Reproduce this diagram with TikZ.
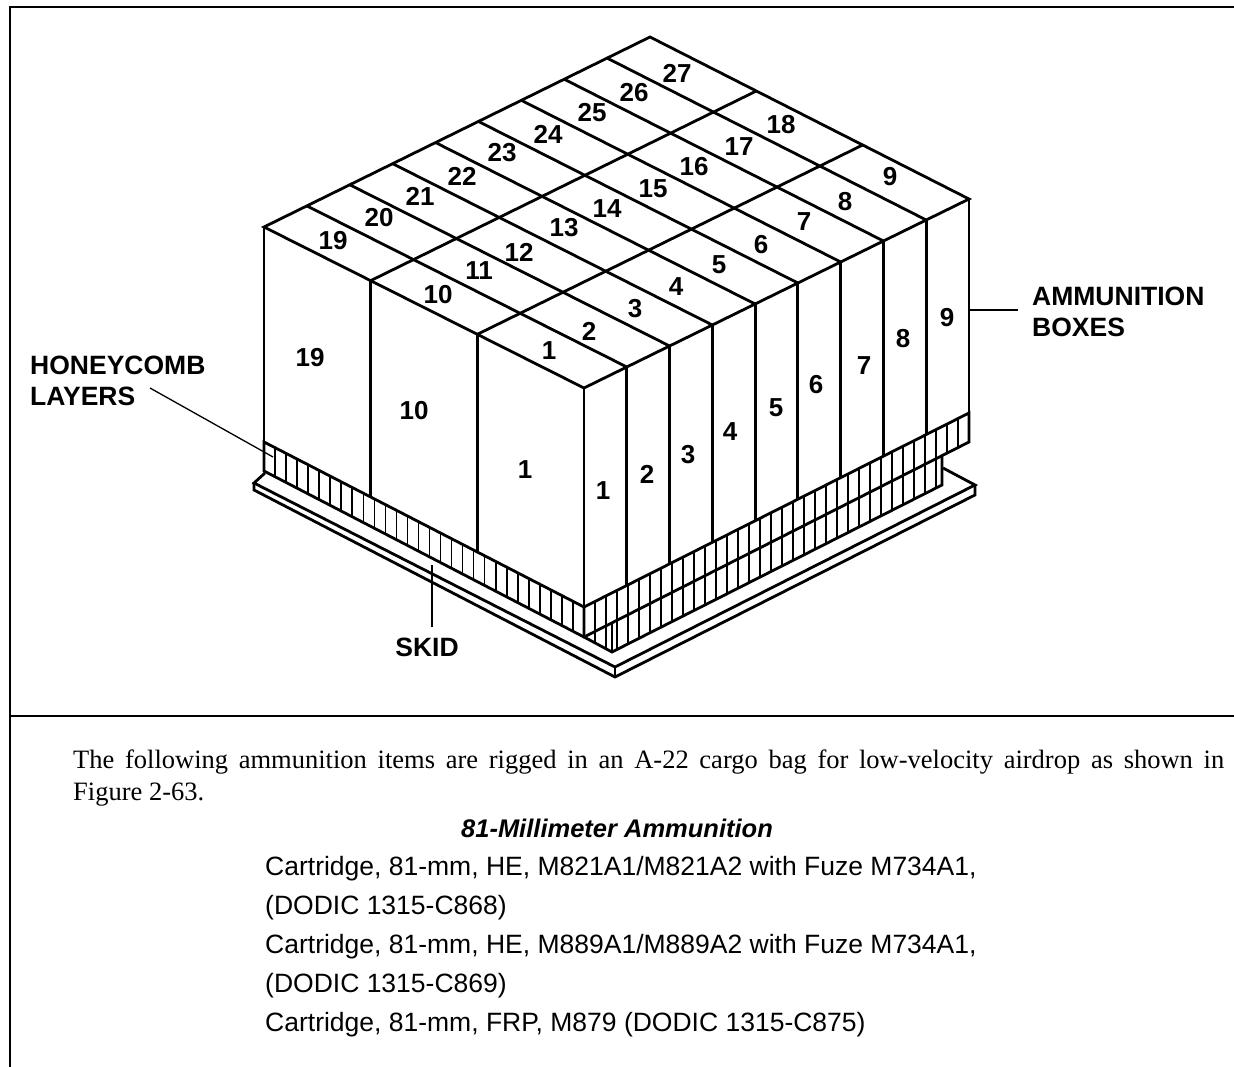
\documentclass[tikz,border=0pt]{standalone}
\usepackage{fontspec}
\setmainfont{Liberation Sans}
\newfontfamily\bodyserif{Liberation Serif}
\usetikzlibrary{calc}

\begin{document}
\begin{tikzpicture}[
  x=1pt,y=-1pt,
  edge/.style={line width=2.8pt,line join=miter},
  hatch/.style={line width=1.6pt},
  leader/.style={line width=1.3pt},
  frame/.style={line width=2.4pt},
  framethin/.style={line width=1.2pt},
  num/.style={font=\fontsize{26}{26}\selectfont\bfseries,inner sep=0pt},
  callout/.style={font=\fontsize{26.5}{31}\selectfont\bfseries,align=left,inner sep=0pt,anchor=west},
  para/.style={font=\bodyserif\fontsize{26.5}{31.5}\selectfont,align=justify,text width=1151pt,inner sep=0pt,anchor=north west},
  item/.style={font=\fontsize{26.5}{39}\selectfont,align=left,inner sep=0pt,anchor=north west}
]
  \useasboundingbox (0,0) rectangle (1234,1067);

  \coordinate (left) at (264,227);
  \coordinate (front) at (584,388);
  \coordinate (right) at (969,199);
  \coordinate (back) at (650,37);
  \coordinate (leftbase) at (264,442);
  \coordinate (frontbase) at (584,607);
  \coordinate (rightbase) at (969,413);

  \draw[frame] (10,1067) -- (10,7) -- (239,7);
  \draw[framethin] (239,7) -- (1008,7);
  \draw[frame] (1008,7) -- (1234,7);
  \draw[frame] (10,716) -- (1234,716);

  \draw[edge] (left) -- (front) -- (right) -- (back) -- cycle;
  \foreach \i in {1,...,8}
    \draw[edge] ($(left)!\i/9!(back)$) -- ($(front)!\i/9!(right)$);
  \foreach \i in {1,2}
    \draw[edge] ($(left)!\i/3!(front)$) -- ($(back)!\i/3!(right)$);

  \foreach \i in {0,...,9}
    \draw[edge] ($(front)!\i/9!(right)$) -- ($(frontbase)!\i/9!(rightbase)$);
  \foreach \i in {0,1,2}
    \draw[edge] ($(left)!\i/3!(front)$) -- ($(leftbase)!\i/3!(frontbase)$);

  % honeycomb
  \draw[edge] (leftbase) -- (frontbase) -- (rightbase) -- (969,442) -- (584,637) -- (264,471) -- cycle;
  \draw[edge] (frontbase) -- (584,637) -- (612,652) -- (942,485) -- (942,456);
  \draw[edge] (612,652) -- (612,623);
  \foreach \i in {1,...,28}
    \draw[hatch] ($(leftbase)!\i/29!(frontbase)$) -- ($(264,471)!\i/29!(584,637)$);
  \foreach \i in {1,...,34}
    \draw[hatch] ($(frontbase)!\i/35!(rightbase)$) -- ($(584,637)!\i/35!(969,442)$);
  \foreach \i in {1,...,32}{
    \pgfmathsetmacro{\xx}{584+11*\i}
    \pgfmathsetmacro{\ytop}{637-(\xx-584)*0.5065}
    \pgfmathsetmacro{\ybot}{\xx<612 ? 637+(\xx-584)*0.536 : 652-(\xx-612)*0.506}
    \draw[hatch] (\xx,\ytop) -- (\xx,\ybot);
  }

  % skid
  \draw[edge] (265,473) -- (254,483) -- (615,667) -- (975,485) -- (943,468);
  \draw[edge] (254,483) -- (254,490) -- (615,677) -- (975,495) -- (975,485);
  \draw[edge] (615,667) -- (615,677);

  \foreach \txt/\xx/\yy [count=\k] in {
    27/677/73,26/634/93,25/592/113,24/548/134,23/502/153,22/462/176,21/420/196,20/379/218,19/333/241,
    18/781/125,17/739/147,16/694/167,15/653/189,14/607/209,13/564/228,12/519/252,11/479/271,10/438/295,
    9/890/177,8/845/202,7/804/222,6/761/245,5/719/265,4/676/287,3/635/309,2/589/331,1/549/351,
    19/310/358,10/414/411,1/525/470,
    1/603/491,2/647/474,3/688/455,4/730/432,5/776/408,6/816/385,7/864/366,8/903/339,9/947/318}
    \node[num] (n\k) at (\xx,\yy) {\txt};

  \node[callout] (honeycomb) at (30,381) {HONEYCOMB\\LAYERS};
  \node[callout] (boxes) at (1032,312) {AMMUNITION\\BOXES};
  \node[callout,anchor=center] (skid) at (427,647) {SKID};
  \coordinate (honeycombstart) at (150,388);
  \coordinate (honeycombend) at (273,457);
  \coordinate (boxesend) at (969,310);
  \coordinate (skidend) at (432,565);
  \draw[leader] (honeycombstart) -- (honeycombend);
  \draw[leader,shorten <=14pt] ([yshift=2pt]boxes.west) -- (boxesend);
  \draw[leader,shorten <=10pt] ([xshift=5pt]skid.north) -- (skidend);

  \node[para] (intro) at (73,750) {The following ammunition items are rigged in an A-22 cargo bag for low-velocity airdrop as shown in\linebreak Figure 2-63.};
  \node[font=\fontsize{25.5}{26}\selectfont\bfseries\itshape,inner sep=0pt] (title) at (617,828) {81-Millimeter Ammunition};
  \node[item] (items) at (265,856) {Cartridge, 81-mm, HE, M821A1/M821A2 with Fuze M734A1,\\(DODIC 1315-C868)\\Cartridge, 81-mm, HE, M889A1/M889A2 with Fuze M734A1,\\(DODIC 1315-C869)\\Cartridge, 81-mm, FRP, M879 (DODIC 1315-C875)};
\end{tikzpicture}
\end{document}
